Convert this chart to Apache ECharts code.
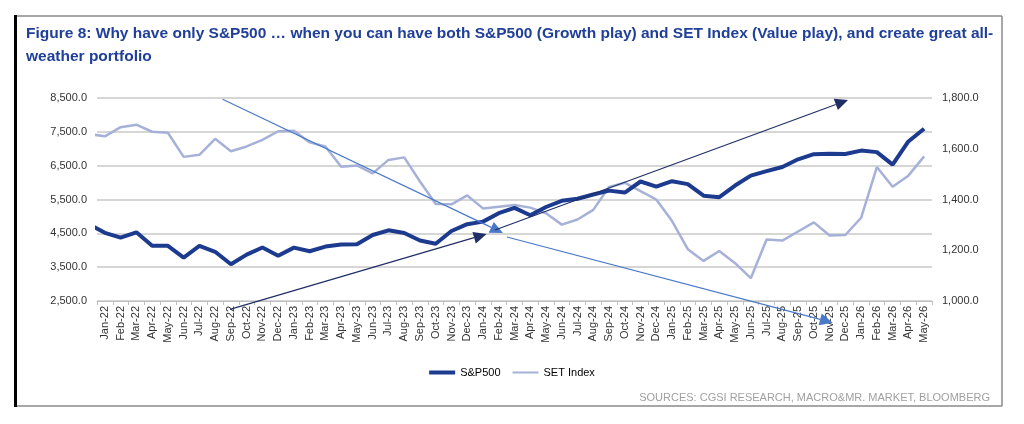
<!DOCTYPE html>
<html>
<head>
<meta charset="utf-8">
<script src="https://cdn.jsdelivr.net/npm/echarts@6/dist/echarts.min.js"></script>
<style>
  html, body { margin: 0; padding: 0; background: #fff; }
  #chart { width: 1024px; height: 424px; }
</style>
</head>
<body>
<div id="chart"></div>
<script>
// month labels on the category axis
const months = [
  'Jan-22','Feb-22','Mar-22','Apr-22','May-22','Jun-22','Jul-22','Aug-22','Sep-22','Oct-22','Nov-22','Dec-22',
  'Jan-23','Feb-23','Mar-23','Apr-23','May-23','Jun-23','Jul-23','Aug-23','Sep-23','Oct-23','Nov-23','Dec-23',
  'Jan-24','Feb-24','Mar-24','Apr-24','May-24','Jun-24','Jul-24','Aug-24','Sep-24','Oct-24','Nov-24','Dec-24',
  'Jan-25','Feb-25','Mar-25','Apr-25','May-25','Jun-25','Jul-25','Aug-25','Sep-25','Oct-25','Nov-25','Dec-25',
  'Jan-26','Feb-26','Mar-26','Apr-26','May-26'
];

// Dec-21 values, the lines come in from the left edge of the plot
const spLeadIn = 4766;
const setLeadIn = 1658;

const sp500 = [
  4516, 4374, 4530, 4132, 4132, 3785, 4130, 3955, 3586, 3872, 4080, 3840,
  4077, 3970, 4109, 4169, 4180, 4450, 4589, 4508, 4288, 4194, 4568, 4770,
  4846, 5096, 5254, 5036, 5278, 5460, 5522, 5648, 5762, 5705, 6032, 5882,
  6040, 5955, 5612, 5569, 5912, 6205, 6339, 6460, 6688, 6840, 6849, 6845,
  6945, 6900, 6530, 7215, 7590
];

const setIndex = [
  1649, 1685, 1695, 1667, 1663, 1568, 1576, 1639, 1590, 1609, 1635, 1669,
  1671, 1625, 1609, 1529, 1534, 1503, 1556, 1566, 1471, 1382, 1381, 1416,
  1365, 1371, 1378, 1368, 1346, 1301, 1321, 1359, 1449, 1466, 1433, 1400,
  1315, 1204, 1158, 1197, 1149, 1090, 1242, 1238, 1274, 1310, 1258, 1260,
  1328, 1528, 1450, 1494, 1570
];

const leftTicks = [2500, 3500, 4500, 5500, 6500, 7500, 8500];

// trend arrows: [month index, S&P500 level] -> [month index, S&P500 level]
const trendArrows = [
  { from: [7.47, 8462], to: [25.27, 4510], color: '#4a78c8' },
  { from: [25.52, 4391], to: [46.2, 1858], color: '#4a78c8' },
  { from: [7.94, 2254], to: [24.23, 4480], color: '#1f2f66' },
  { from: [24.76, 4598], to: [47.17, 8441], color: '#1f2f66' }
];

const fmt = v => v.toLocaleString('en-US', { minimumFractionDigits: 1, maximumFractionDigits: 1 });
const withLeadIn = (lead, arr) => [[-1, lead]].concat(arr.map((v, i) => [i, v]));

const FONT = '"Liberation Sans", Arial, sans-serif';
const SP_COLOR = '#1c3a8e';
const SET_COLOR = '#a6b1d8';
const chart = echarts.init(document.getElementById('chart'));

chart.setOption({
  animation: false,
  backgroundColor: '#fff',
  textStyle: { fontFamily: FONT },
  title: {
    text: 'Figure 8: Why have only S&P500 \u2026 when you can have both S&P500 (Growth play) and SET Index (Value play), and create great all-\nweather portfolio',
    left: 21,
    top: 17,
    textStyle: { color: '#1f3f99', fontSize: 15.5, fontWeight: 'bold', lineHeight: 23, fontFamily: FONT }
  },
  grid: { left: 97, right: 92, top: 98, bottom: 123 },
  legend: {
    top: 362,
    left: 'center',
    itemWidth: 26,
    itemHeight: 4,
    itemGap: 12,
    textStyle: { fontSize: 11, color: '#000', fontFamily: FONT },
    data: [
      { name: 'S&P500', icon: 'path://M0,0h26v4h-26z', itemStyle: { color: SP_COLOR } },
      { name: 'SET Index', icon: 'path://M0,0h0.01v0.01h-0.01z M0,1h26v2h-26z M0,3.99h0.01v0.01h-0.01z', itemStyle: { color: SET_COLOR } }
    ]
  },
  xAxis: [
    {
      type: 'category',
      data: months,
      boundaryGap: true,
      axisLine: { lineStyle: { color: '#bfbfbf', width: 1 } },
      axisTick: { show: true, length: 4, lineStyle: { color: '#bfbfbf' } },
      axisLabel: { interval: 0, rotate: 90, fontSize: 11, color: '#333', margin: 5 }
    },
    { type: 'value', min: -0.5, max: 52.5, show: false }
  ],
  yAxis: [
    {
      type: 'value',
      min: 2500,
      max: 8500,
      axisLine: { show: false },
      axisTick: { show: false, customValues: leftTicks },
      axisLabel: { customValues: leftTicks, formatter: fmt, fontSize: 11, color: '#333', margin: 10 },
      splitLine: { lineStyle: { color: '#c8c8c8', width: 1.5 } }
    },
    {
      type: 'value',
      min: 1000,
      max: 1800,
      interval: 200,
      axisLine: { show: false },
      axisTick: { show: false },
      axisLabel: { formatter: fmt, fontSize: 11, color: '#333', margin: 10 },
      splitLine: { show: false }
    }
  ],
  series: [
    {
      name: 'S&P500',
      type: 'line',
      xAxisIndex: 1,
      yAxisIndex: 0,
      data: withLeadIn(spLeadIn, sp500),
      symbol: 'none',
      z: 3,
      lineStyle: { color: SP_COLOR, width: 4 },
      itemStyle: { color: SP_COLOR }
    },
    {
      name: 'SET Index',
      type: 'line',
      xAxisIndex: 1,
      yAxisIndex: 1,
      data: withLeadIn(setLeadIn, setIndex),
      symbol: 'none',
      z: 2,
      lineStyle: { color: SET_COLOR, width: 2.5 },
      itemStyle: { color: SET_COLOR }
    }
  ]
});

// frame, source note and the trend arrows
function arrowGraphics(a) {
  const p0 = chart.convertToPixel({ xAxisIndex: 1, yAxisIndex: 0 }, a.from);
  const p1 = chart.convertToPixel({ xAxisIndex: 1, yAxisIndex: 0 }, a.to);
  const ang = Math.atan2(p1[1] - p0[1], p1[0] - p0[0]);
  const len = 13, half = 6;
  const bx = p1[0] - len * Math.cos(ang), by = p1[1] - len * Math.sin(ang);
  const nx = -Math.sin(ang) * half, ny = Math.cos(ang) * half;
  return [
    { type: 'line', z: 10, shape: { x1: p0[0], y1: p0[1], x2: bx, y2: by }, style: { stroke: a.color, lineWidth: 1.2 } },
    { type: 'polygon', z: 10, shape: { points: [p1, [bx + nx, by + ny], [bx - nx, by - ny]] }, style: { fill: a.color } }
  ];
}

let graphics = [
  { type: 'line', shape: { x1: 15, y1: 16, x2: 1002, y2: 16 }, style: { stroke: '#8a8a8a', lineWidth: 1.5 } },
  { type: 'line', shape: { x1: 1002, y1: 16, x2: 1002, y2: 406 }, style: { stroke: '#8a8a8a', lineWidth: 1.5 } },
  { type: 'line', shape: { x1: 15, y1: 406, x2: 1002, y2: 406 }, style: { stroke: '#8a8a8a', lineWidth: 1.5 } },
  { type: 'line', shape: { x1: 15.5, y1: 15, x2: 15.5, y2: 407 }, style: { stroke: '#000', lineWidth: 3 } },
  {
    type: 'text', right: 1024 - 990, top: 392,
    style: { text: 'SOURCES: CGSI RESEARCH, MACRO&MR. MARKET, BLOOMBERG', fill: '#a0a0a0', font: '11px ' + FONT }
  }
];
trendArrows.forEach(a => { graphics = graphics.concat(arrowGraphics(a)); });
chart.setOption({ graphic: graphics });
</script>
</body>
</html>
